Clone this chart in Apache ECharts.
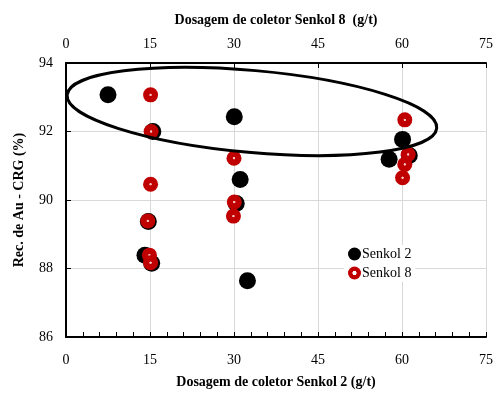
<!DOCTYPE html>
<html><head><meta charset="utf-8">
<script src="https://cdn.jsdelivr.net/npm/echarts@6/dist/echarts.min.js"></script>
<style>html,body{margin:0;padding:0;background:#fff}#c{width:497px;height:394px}</style>
</head><body><div id="c"></div>
<script>
const xTicks = [0, 15, 30, 45, 60, 75];
const yTicks = [86, 88, 90, 92, 94];
const senkol2 = [[7.5,93.07],[30.05,92.43],[15.5,92.0],[31.1,90.6],[30.4,89.9],[14.7,89.37],[14.1,88.39],[15.3,88.15],[32.4,87.64],[60.1,91.77],[57.7,91.19],[61.3,91.3]];
const senkol8 = [[15.1,93.07],[15.2,92.0],[15.1,90.46],[14.6,89.39],[14.9,88.39],[15.1,88.17],[30.0,91.22],[30.05,89.94],[29.9,89.53],[60.5,92.34],[61.1,91.33],[60.5,91.04],[60.1,90.65]];
const ellipseEnds = [[0.2,93.07],[66.2,92.1]];
const FONT = 'Liberation Serif';
const chart = echarts.init(document.getElementById('c'));
const redFill = {type:'radial',x:0.5,y:0.5,r:0.5,colorStops:[{offset:0,color:'#f4c0c0'},{offset:0.12,color:'#f4c0c0'},{offset:0.2,color:'#c00000'},{offset:1,color:'#c00000'}]};
const redRing = {type:'radial',x:0.5,y:0.5,r:0.5,colorStops:[{offset:0,color:'#fff'},{offset:0.28,color:'#fff'},{offset:0.36,color:'#c00000'},{offset:1,color:'#c00000'}]};
const axisCommon = {
  min: xTicks[0], max: xTicks[xTicks.length-1], interval: 15,
  axisLine:{show:true,lineStyle:{color:'#000',width:2}},
  axisLabel:{color:'#000',fontFamily:FONT,fontSize:14},
  nameTextStyle:{color:'#000',fontFamily:FONT,fontSize:14,fontWeight:'bold'},
  nameLocation:'middle'
};
chart.setOption({
  animation:false,
  grid:{left:66,right:11,top:63,bottom:57},
  xAxis:[
    Object.assign({}, axisCommon, {type:'value',position:'bottom',name:'Dosagem de coletor Senkol 2 (g/t)',nameGap:38,
      axisTick:{show:true,inside:true,length:5,lineStyle:{color:'#000'}},
      axisLabel:{color:'#000',fontFamily:FONT,fontSize:14,margin:16},
      splitLine:{show:true,lineStyle:{color:'#d9d9d9',width:1}}}),
    Object.assign({}, axisCommon, {type:'value',position:'top',name:'Dosagem de coletor Senkol 8  (g/t)',nameGap:36,
      axisTick:{show:true,inside:true,length:5,lineStyle:{color:'#000'}},
      axisLabel:{color:'#000',fontFamily:FONT,fontSize:14,margin:12},
      splitLine:{show:false}}),
    {type:'value',position:'bottom',min:xTicks[0],max:xTicks[xTicks.length-1],interval:3,
      axisLine:{show:false},axisLabel:{show:false},splitLine:{show:false},
      axisTick:{show:true,inside:true,length:5,lineStyle:{color:'#000'}}}
  ],
  yAxis:[
    {type:'value',min:yTicks[0],max:yTicks[yTicks.length-1],interval:2,
     name:'Rec. de Au - CRG (%)',nameLocation:'middle',nameGap:40,
     nameTextStyle:{color:'#000',fontFamily:FONT,fontSize:14,fontWeight:'bold'},
     axisLine:{show:true,lineStyle:{color:'#000',width:2}},
     axisTick:{show:true,inside:true,length:5,lineStyle:{color:'#000'}},
     axisLabel:{color:'#000',fontFamily:FONT,fontSize:14,margin:13},
     splitLine:{show:true,lineStyle:{color:'#d9d9d9',width:1}}},
    {type:'value',position:'right',min:yTicks[0],max:yTicks[yTicks.length-1],interval:2,
     axisLine:{show:true,lineStyle:{color:'#000',width:2}},
     axisTick:{show:false},axisLabel:{show:false},splitLine:{show:false}}
  ],
  legend:{
    left:344,top:245,orient:'vertical',itemGap:5,itemWidth:13,itemHeight:13,
    backgroundColor:'#fff',padding:[2,4,2,4],
    textStyle:{color:'#000',fontFamily:FONT,fontSize:14,padding:[0,0,0,-4]},
    data:[
      {name:'Senkol 2',icon:'circle',itemStyle:{color:'#000'}},
      {name:'Senkol 8',icon:'circle',itemStyle:{color:redRing,borderWidth:0}}
    ]
  },
  series:[
    {name:'Senkol 2',type:'scatter',xAxisIndex:0,yAxisIndex:0,data:senkol2,symbolSize:17,
     itemStyle:{color:'#000',opacity:1},z:2},
    {name:'Senkol 8',type:'scatter',xAxisIndex:0,yAxisIndex:0,data:senkol8,symbolSize:15,
     itemStyle:{color:redFill,opacity:1},z:3}
  ]
});
const p1 = chart.convertToPixel({xAxisIndex:0,yAxisIndex:0}, ellipseEnds[0]);
const p2 = chart.convertToPixel({xAxisIndex:0,yAxisIndex:0}, ellipseEnds[1]);
const cx = (p1[0]+p2[0])/2, cy = (p1[1]+p2[1])/2;
const a = Math.hypot(p2[0]-p1[0], p2[1]-p1[1])/2;
const ang = Math.atan2(p2[1]-p1[1], p2[0]-p1[0]);
chart.setOption({graphic:[{type:'ellipse',x:cx,y:cy,rotation:-ang,shape:{cx:0,cy:0,rx:a,ry:41},
  style:{fill:'none',stroke:'#000',lineWidth:3},z:10}]});
</script></body></html>
